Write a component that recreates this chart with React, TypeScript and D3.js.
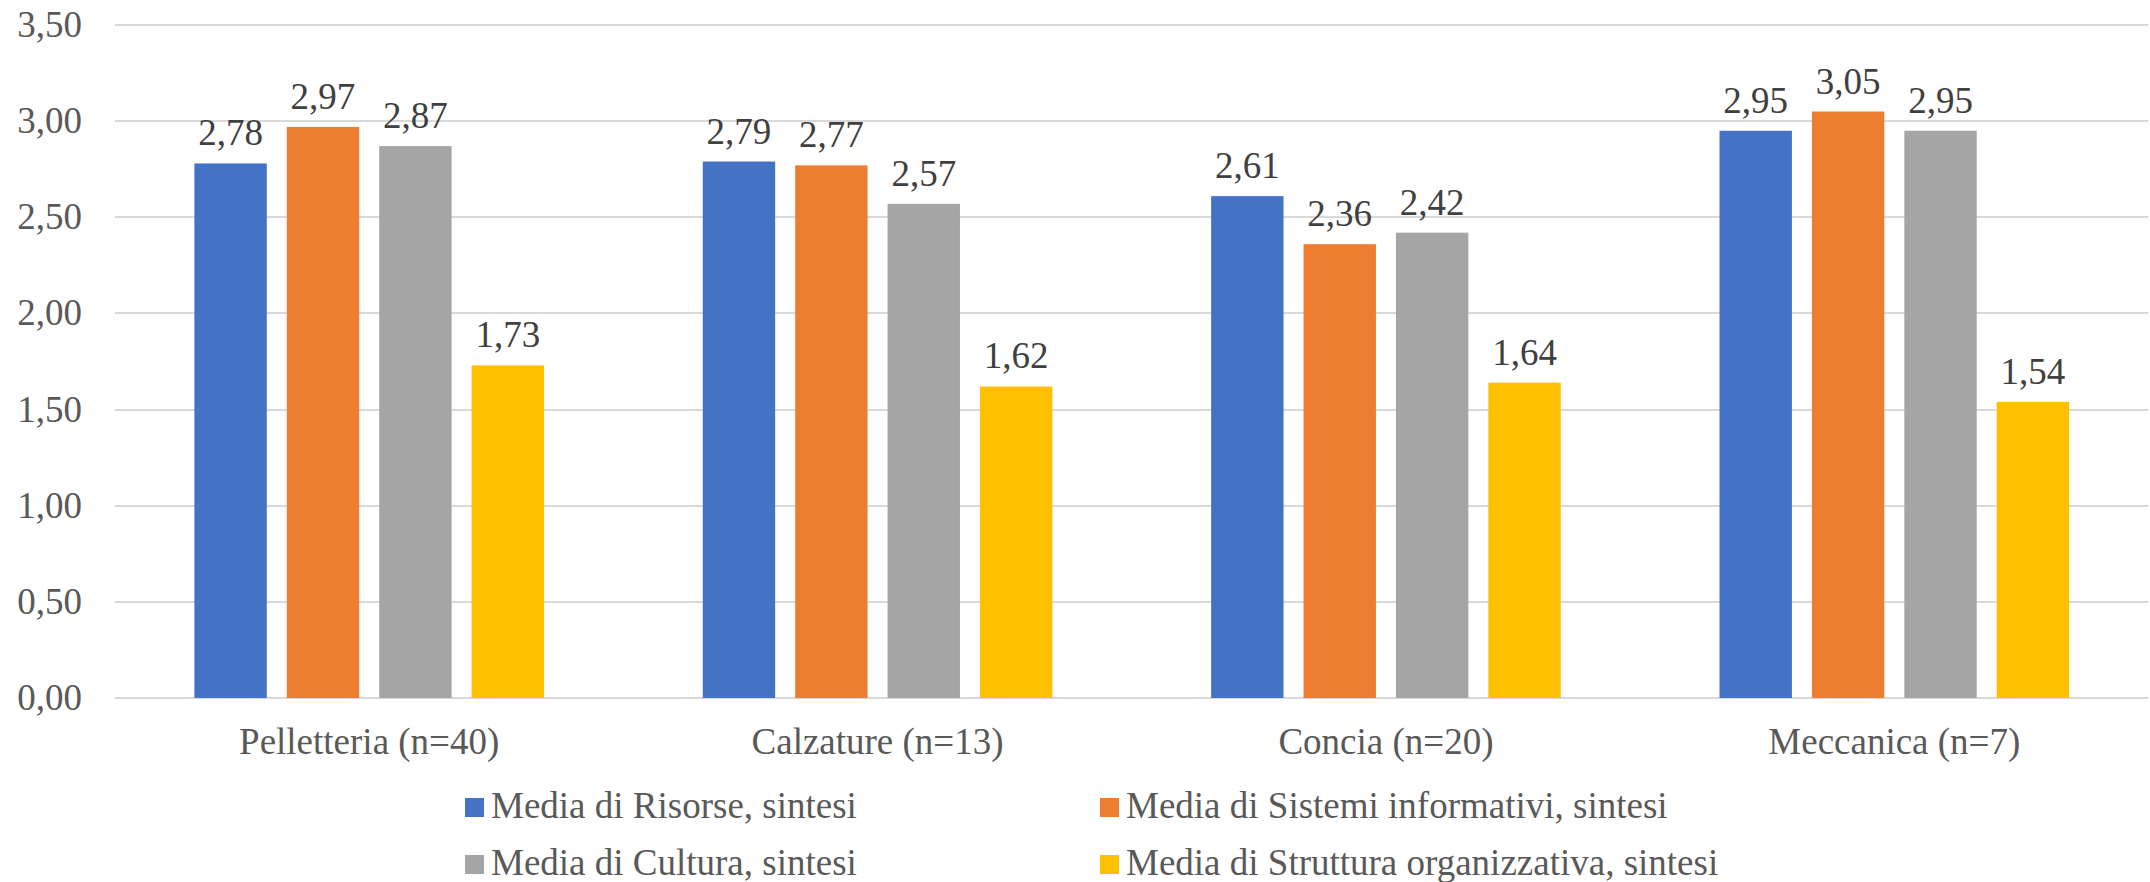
import React from "react";
import * as d3 from "d3";

const categories = ["Pelletteria (n=40)", "Calzature (n=13)", "Concia (n=20)", "Meccanica (n=7)"];
const seriesNames = [
  "Media di Risorse, sintesi",
  "Media di Sistemi informativi, sintesi",
  "Media di Cultura, sintesi",
  "Media di Struttura organizzativa, sintesi",
];
const risorse = [2.78, 2.79, 2.61, 2.95];
const sistemi = [2.97, 2.77, 2.36, 3.05];
const cultura = [2.87, 2.57, 2.42, 2.95];
const struttura = [1.73, 1.62, 1.64, 1.54];
const yTicks = [0, 0.5, 1, 1.5, 2, 2.5, 3, 3.5];
const colors = ["#4472C4", "#ED7D31", "#A5A5A5", "#FFC000"];

const W = 2150;
const H = 882;
const FONT = "'Liberation Serif', 'Times New Roman', serif";

export default function App() {
  const seriesValues = [risorse, sistemi, cultura, struttura];
  const left = 115;
  const right = 2148.5;
  const top = 25;
  const bottom = 698;

  const y = d3.scaleLinear().domain([0, 3.5]).range([bottom, top]);
  const x0 = d3.scaleBand<string>().domain(categories).range([left, right]).padding(0);
  const groupW = 349.6;
  const x1 = d3
    .scaleBand<number>()
    .domain(d3.range(seriesNames.length))
    .range([0, groupW])
    .paddingInner(0.2165)
    .paddingOuter(0);
  const fmt = (v: number) => v.toFixed(2).replace(".", ",");

  const legendPos = [
    { x: 465, y: 798 },
    { x: 1100, y: 798 },
    { x: 465, y: 855 },
    { x: 1100, y: 855 },
  ];

  return (
    <svg
      width={W}
      height={H}
      style={{ position: "absolute", left: 0, top: 0, background: "#fff" }}
      fontFamily={FONT}
    >
      <rect x={0} y={0} width={W} height={H} fill="#fff" />
      {yTicks.map((t) => (
        <g key={t}>
          <line x1={left} x2={right} y1={Math.round(y(t))} y2={Math.round(y(t))} stroke="#d9d9d9" strokeWidth={2} />
          <text x={82} y={y(t) + 12} textAnchor="end" fontSize={37} fill="#595959">
            {fmt(t)}
          </text>
        </g>
      ))}
      {categories.map((c, ci) => {
        const gx = (x0(c) as number) + (x0.bandwidth() - groupW) / 2;
        return (
          <g key={c}>
            {seriesValues.map((vals, si) => {
              const bx = gx + (x1(si) as number);
              const v = vals[ci];
              return (
                <g key={si}>
                  <rect x={bx} y={y(v)} width={x1.bandwidth()} height={bottom - y(v)} fill={colors[si]} />
                  <text
                    x={bx + x1.bandwidth() / 2}
                    y={y(v) - 18}
                    textAnchor="middle"
                    fontSize={37}
                    fill="#404040"
                  >
                    {fmt(v)}
                  </text>
                </g>
              );
            })}
            <text
              x={(x0(c) as number) + x0.bandwidth() / 2}
              y={754}
              textAnchor="middle"
              fontSize={37}
              fill="#595959"
            >
              {c}
            </text>
          </g>
        );
      })}
      {seriesNames.map((s, i) => (
        <g key={s}>
          <rect x={legendPos[i].x} y={legendPos[i].y} width={19} height={19} fill={colors[i]} />
          <text x={legendPos[i].x + 26} y={legendPos[i].y + 20} fontSize={37} fill="#595959">
            {s}
          </text>
        </g>
      ))}
    </svg>
  );
}
